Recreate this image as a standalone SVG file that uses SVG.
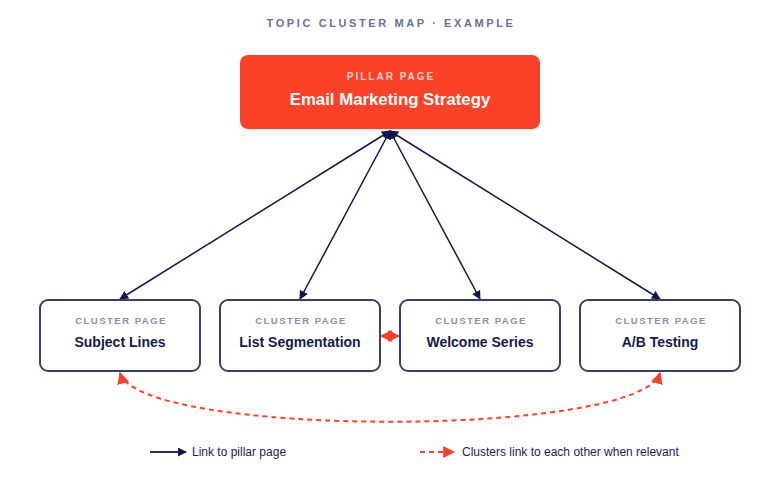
<svg xmlns="http://www.w3.org/2000/svg" width="780" height="480" viewBox="0 0 780 480">
<defs>
<style>
text{font-family:"Liberation Sans",Arial,sans-serif;text-anchor:middle}
.title{font-size:11px;font-weight:bold;letter-spacing:2.6px;fill:#6b7094}
.pk{font-size:10px;font-weight:bold;letter-spacing:2px;fill:#ffd3cb}
.pt{font-size:16.8px;font-weight:bold;fill:#ffffff}
.ck{font-size:9.5px;font-weight:bold;letter-spacing:1.5px;fill:#8a8fa8}
.ct{font-size:14px;font-weight:bold;fill:#161a4a}
.box{fill:#ffffff;stroke:#3a3f6b;stroke-width:2}
.link{fill:none;stroke:#12164a;stroke-width:1.5}
.rel{fill:none;stroke:#fb4128;stroke-width:2;stroke-dasharray:5 4}
.leg{font-size:12px;fill:#1d2150;text-anchor:start}
</style>
<marker id="an" viewBox="0 0 10 10" refX="9" refY="5" markerWidth="9" markerHeight="9" markerUnits="userSpaceOnUse" orient="auto-start-reverse"><path d="M0,0 L10,5 L0,10 z" fill="#12164a"/></marker>
<marker id="ar" viewBox="0 0 10 10" refX="9" refY="5" markerWidth="12" markerHeight="12" markerUnits="userSpaceOnUse" orient="auto-start-reverse"><path d="M0,0 L10,5 L0,10 z" fill="#fb4128"/></marker>
</defs>
<rect width="780" height="480" fill="#ffffff"/>
<text class="title" x="391" y="27">TOPIC CLUSTER MAP · EXAMPLE</text>

<g id="connectors">
<line class="link" x1="390" y1="131" x2="120" y2="299" marker-start="url(#an)" marker-end="url(#an)"/>
<line class="link" x1="390" y1="131" x2="300" y2="299" marker-start="url(#an)" marker-end="url(#an)"/>
<line class="link" x1="390" y1="131" x2="480" y2="299" marker-start="url(#an)" marker-end="url(#an)"/>
<line class="link" x1="390" y1="131" x2="660" y2="299" marker-start="url(#an)" marker-end="url(#an)"/>
<path class="rel" d="M120,373 C140,438 640,438 660,373" marker-start="url(#ar)" marker-end="url(#ar)"/>
<line x1="381" y1="336" x2="399" y2="336" stroke="#fb4128" stroke-width="2" marker-start="url(#ar)" marker-end="url(#ar)"/>
</g>

<g id="pillar">
<rect x="240" y="55" width="300" height="74" rx="8" fill="#fb4128"/>
<text class="pk" x="391" y="80">PILLAR PAGE</text>
<text class="pt" x="390" y="105">Email Marketing Strategy</text>
</g>

<g id="subject-lines">
<rect class="box" x="40" y="300" width="160" height="71" rx="8"/>
<text class="ck" x="121" y="324">CLUSTER PAGE</text>
<text class="ct" x="120" y="347">Subject Lines</text>
</g>
<g id="list-segmentation">
<rect class="box" x="220" y="300" width="160" height="71" rx="8"/>
<text class="ck" x="301" y="324">CLUSTER PAGE</text>
<text class="ct" x="300" y="347">List Segmentation</text>
</g>
<g id="welcome-series">
<rect class="box" x="400" y="300" width="160" height="71" rx="8"/>
<text class="ck" x="481" y="324">CLUSTER PAGE</text>
<text class="ct" x="480" y="347">Welcome Series</text>
</g>
<g id="ab-testing">
<rect class="box" x="580" y="300" width="160" height="71" rx="8"/>
<text class="ck" x="661" y="324">CLUSTER PAGE</text>
<text class="ct" x="660" y="347">A/B Testing</text>
</g>

<g id="legend">
<line x1="150" y1="452" x2="186" y2="452" stroke="#2a2f5e" stroke-width="2" marker-end="url(#an)"/>
<text class="leg" x="192" y="456">Link to pillar page</text>
<line x1="420" y1="452" x2="454" y2="452" stroke="#fb4128" stroke-width="2" stroke-dasharray="5 4" marker-end="url(#ar)"/>
<text class="leg" x="462" y="456">Clusters link to each other when relevant</text>
</g>
</svg>
